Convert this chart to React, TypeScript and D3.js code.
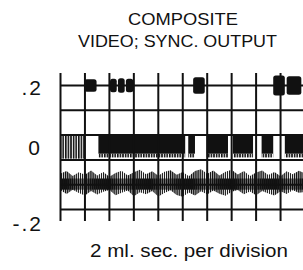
import * as d3 from "d3";

// hand-lettered captions
const titleLines = ["COMPOSITE", "VIDEO; SYNC. OUTPUT"];
const xCaption = "2 ml. sec. per division";

// vertical axis (volts)
const yTickValues = [0.2, 0, -0.2];
const yTickLabels = [".2", "0", "-.2"];
const gridLevels = [0.2, 0.12, 0.04, -0.04, -0.12, -0.2];

// time axis (ms), 2 ms per division
const gridTimes = [0, 2, 4, 6, 8, 10, 12, 14, 16, 18, 20];

// sync bursts riding on the .2 line: start ms, end ms, half height
const syncStart = [1.95, 4.05, 4.7, 5.35, 10.85, 17.4, 18.5];
const syncEnd = [2.95, 4.6, 5.25, 5.95, 11.8, 18.35, 19.7];
const syncHalf = [0.02, 0.022, 0.023, 0.022, 0.027, 0.032, 0.03];

// video bursts in the band around 0: start ms, end ms
const videoStart = [0.05, 3.1, 10.45, 11.95, 14.1, 16.45, 18.35];
const videoEnd = [2.05, 10.2, 11.0, 13.7, 15.75, 17.4, 20];

// noise trace near -.12, envelope every 0.5 ms
const noiseTimes = [
  0, 0.5, 1, 1.5, 2, 2.5, 3, 3.5, 4, 4.5, 5, 5.5, 6, 6.5, 7, 7.5, 8, 8.5, 9, 9.5,
  10, 10.5, 11, 11.5, 12, 12.5, 13, 13.5, 14, 14.5, 15, 15.5, 16, 16.5, 17, 17.5,
  18, 18.5, 19, 19.5, 20,
];
const noiseUpper = [
  -0.084, -0.076, -0.092, -0.08, -0.088, -0.074, -0.09, -0.079, -0.094, -0.082,
  -0.075, -0.09, -0.08, -0.072, -0.086, -0.077, -0.091, -0.078, -0.073, -0.088,
  -0.079, -0.093, -0.076, -0.07, -0.085, -0.074, -0.09, -0.078, -0.072, -0.087,
  -0.076, -0.092, -0.081, -0.074, -0.089, -0.079, -0.093, -0.077, -0.086, -0.075,
  -0.083,
];
const noiseLower = [
  -0.138, -0.15, -0.136, -0.147, -0.155, -0.14, -0.152, -0.143, -0.137, -0.154,
  -0.146, -0.139, -0.157, -0.144, -0.151, -0.14, -0.158, -0.147, -0.138, -0.153,
  -0.159, -0.145, -0.155, -0.141, -0.152, -0.139, -0.149, -0.156, -0.143, -0.137,
  -0.151, -0.142, -0.154, -0.14, -0.148, -0.155, -0.141, -0.15, -0.138, -0.146,
  -0.143,
];

const W = 303;
const H = 270;
const ink = "#111";
const hand = "'Liberation Sans', 'DejaVu Sans', sans-serif";

export default function App() {
  const x = d3.scaleLinear().domain([0, 20]).range([60.5, 305]);
  const y = d3.scaleLinear().domain([-0.2, 0.2]).range([209.5, 85.5]);

  const noise = noiseTimes.map((t, i) => ({ t, hi: noiseUpper[i], lo: noiseLower[i] }));
  const noiseArea = d3
    .area<{ t: number; hi: number; lo: number }>()
    .x((d) => x(d.t))
    .y0((d) => y(d.lo))
    .y1((d) => y(d.hi));

  const labelNudge = [9.5, 7.5, 21];

  return (
    <svg
      width={W}
      height={H}
      style={{ position: "absolute", left: 0, top: 0, background: "#fff", display: "block" }}
    >
      <defs>
        <pattern id="stripes" width={2.6} height={10} patternUnits="userSpaceOnUse">
          <rect x={0} y={0} width={1.6} height={10} fill={ink} />
        </pattern>
        <pattern id="fine" width={2.1} height={10} patternUnits="userSpaceOnUse">
          <rect x={0} y={0} width={1.3} height={10} fill={ink} />
        </pattern>
        <pattern id="dense" width={2} height={10} patternUnits="userSpaceOnUse">
          <rect x={0} y={0} width={1.6} height={10} fill={ink} />
        </pattern>
        <clipPath id="plot">
          <rect x={0} y={60} width={W} height={170} />
        </clipPath>
      </defs>

      {/* title */}
      <g fill={ink} fontFamily={hand} fontSize={17} textAnchor="middle">
        <text x={183} y={25} textLength={110} lengthAdjust="spacingAndGlyphs">
          {titleLines[0]}
        </text>
        <text x={177.5} y={47} textLength={199} lengthAdjust="spacingAndGlyphs">
          {titleLines[1]}
        </text>
      </g>

      {/* y labels */}
      <g fill={ink} fontFamily={hand} fontSize={21} textAnchor="end">
        {yTickValues.map((v, i) => (
          <text
            key={v}
            x={i === 1 ? 40 : 43}
            y={y(v) + labelNudge[i]}
            letterSpacing={i === 1 ? 0 : 2}
          >
            {yTickLabels[i]}
          </text>
        ))}
      </g>

      <g clipPath="url(#plot)">
        {/* noise trace */}
        <path d={noiseArea(noise) ?? ""} fill="url(#fine)" />
        <rect
          x={x(0)}
          y={y(-0.1)}
          width={x(20) - x(0)}
          height={y(-0.136) - y(-0.1)}
          fill="url(#dense)"
        />

        {/* video bursts */}
        {videoStart.map((s, i) => (
          <g key={`v-${i}`}>
            <rect
              x={x(s)}
              y={y(0.04)}
              width={x(videoEnd[i]) - x(s)}
              height={y(i === 0 ? -0.036 : -0.02) - y(0.04)}
              fill={i === 0 ? "url(#stripes)" : ink}
            />
            {i > 0 && (
              <rect
                x={x(s)}
                y={y(-0.02)}
                width={x(videoEnd[i]) - x(s)}
                height={y(-0.032) - y(-0.02)}
                fill="url(#stripes)"
              />
            )}
          </g>
        ))}

        {/* grid */}
        {gridLevels.map((v) => (
          <line key={`h-${v}`} x1={x(0)} x2={W + 4} y1={y(v)} y2={y(v)} stroke={ink} strokeWidth={2} />
        ))}
        {gridTimes.map((t) => (
          <line key={`g-${t}`} x1={x(t)} x2={x(t)} y1={73} y2={221} stroke={ink} strokeWidth={2} />
        ))}

        {/* sync bursts */}
        {syncStart.map((s, i) => (
          <rect
            key={`s-${i}`}
            x={x(s)}
            y={y(0.2 + syncHalf[i])}
            width={x(syncEnd[i]) - x(s)}
            height={y(0.2 - syncHalf[i]) - y(0.2 + syncHalf[i])}
            rx={2.5}
            fill={ink}
          />
        ))}
      </g>

      {/* x caption */}
      <text
        x={189}
        y={257}
        fill={ink}
        fontFamily={hand}
        fontSize={18}
        textAnchor="middle"
        textLength={198}
        lengthAdjust="spacingAndGlyphs"
      >
        {xCaption}
      </text>
    </svg>
  );
}
